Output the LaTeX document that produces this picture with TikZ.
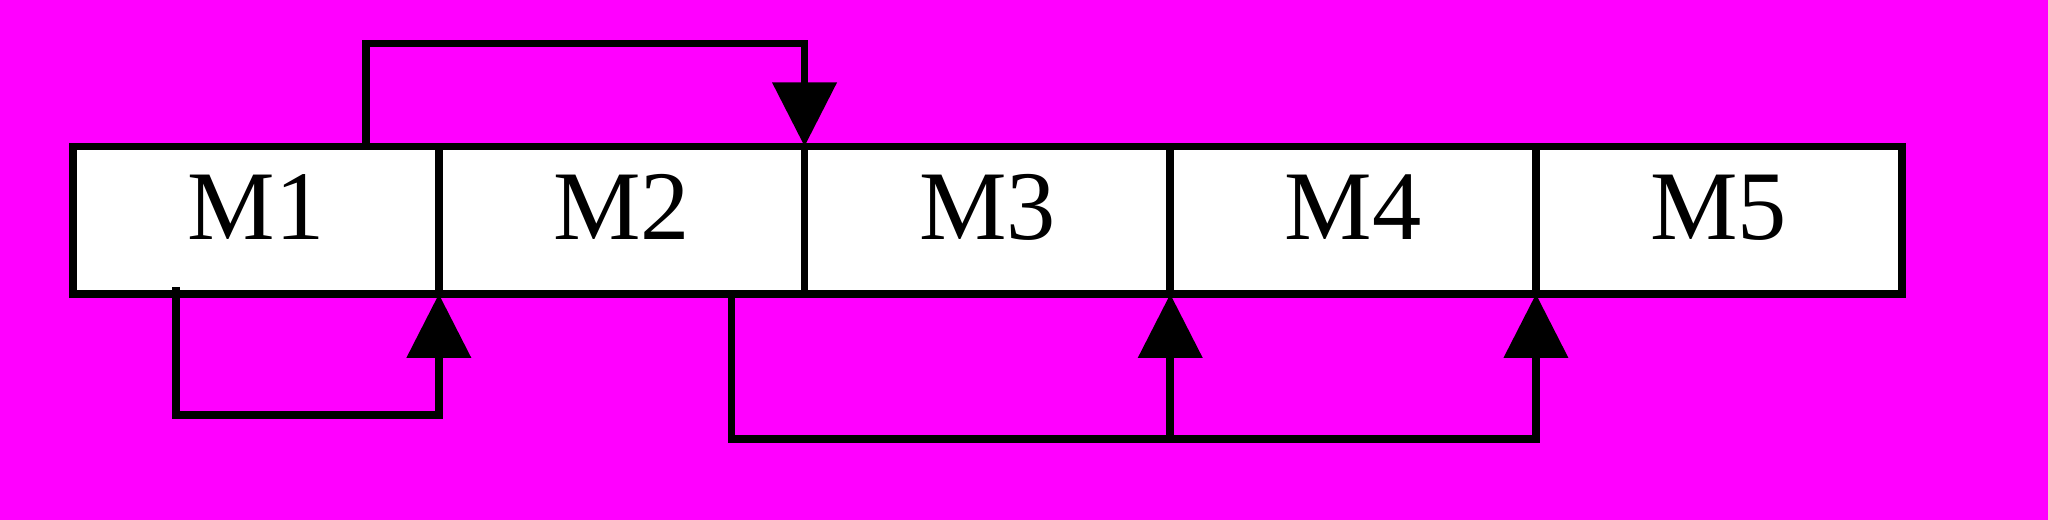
\documentclass[tikz,border=0pt]{standalone}
\usepackage{fontspec}
\setmainfont{Liberation Serif}
\usepackage{tikz}
\usetikzlibrary{arrows.meta,positioning}
\definecolor{bgpink}{RGB}{255,0,255}

\begin{document}
\begin{tikzpicture}[
            > = {Triangle[length=0.64cm,width=0.63cm]}, % arrow head style
            line width = 2.2pt, % line style
            modbox/.style = {draw, fill=white, inner sep=0pt, outer sep=0pt,
                minimum width=3.657cm, minimum height=1.476cm,
                font=\fontsize{28}{32}\selectfont,
                text height=0.64cm, text depth=0.25cm}
        ]

	\fill[bgpink] (0,0) rectangle (20.48,5.2);
	\useasboundingbox (0,0) rectangle (20.48,5.2);

	\node[modbox] (M1) at (2.56,2.998) {M1};
	\node[modbox] (M2) [right=0pt of M1] {M2};
	\node[modbox] (M3) [right=0pt of M2] {M3};
	\node[modbox] (M4) [right=0pt of M3] {M4};
	\node[modbox] (M5) [right=0pt of M4] {M5};

	\draw[->] ([xshift=-0.73cm]M1.north east) -- ++(0,1.03) -| (M3.north west);
	\draw[->] ([xshift=1.03cm,yshift=0.07cm]M1.south west) -- ++(0,-1.28) -| (M2.south west);
	\draw[->] ([xshift=-0.73cm]M2.south east) -- ++(0,-1.45) coordinate (low) -| (M4.south east);
	\draw[->] (low -| M3.south east) -- (M3.south east);

\end{tikzpicture}
\end{document}
